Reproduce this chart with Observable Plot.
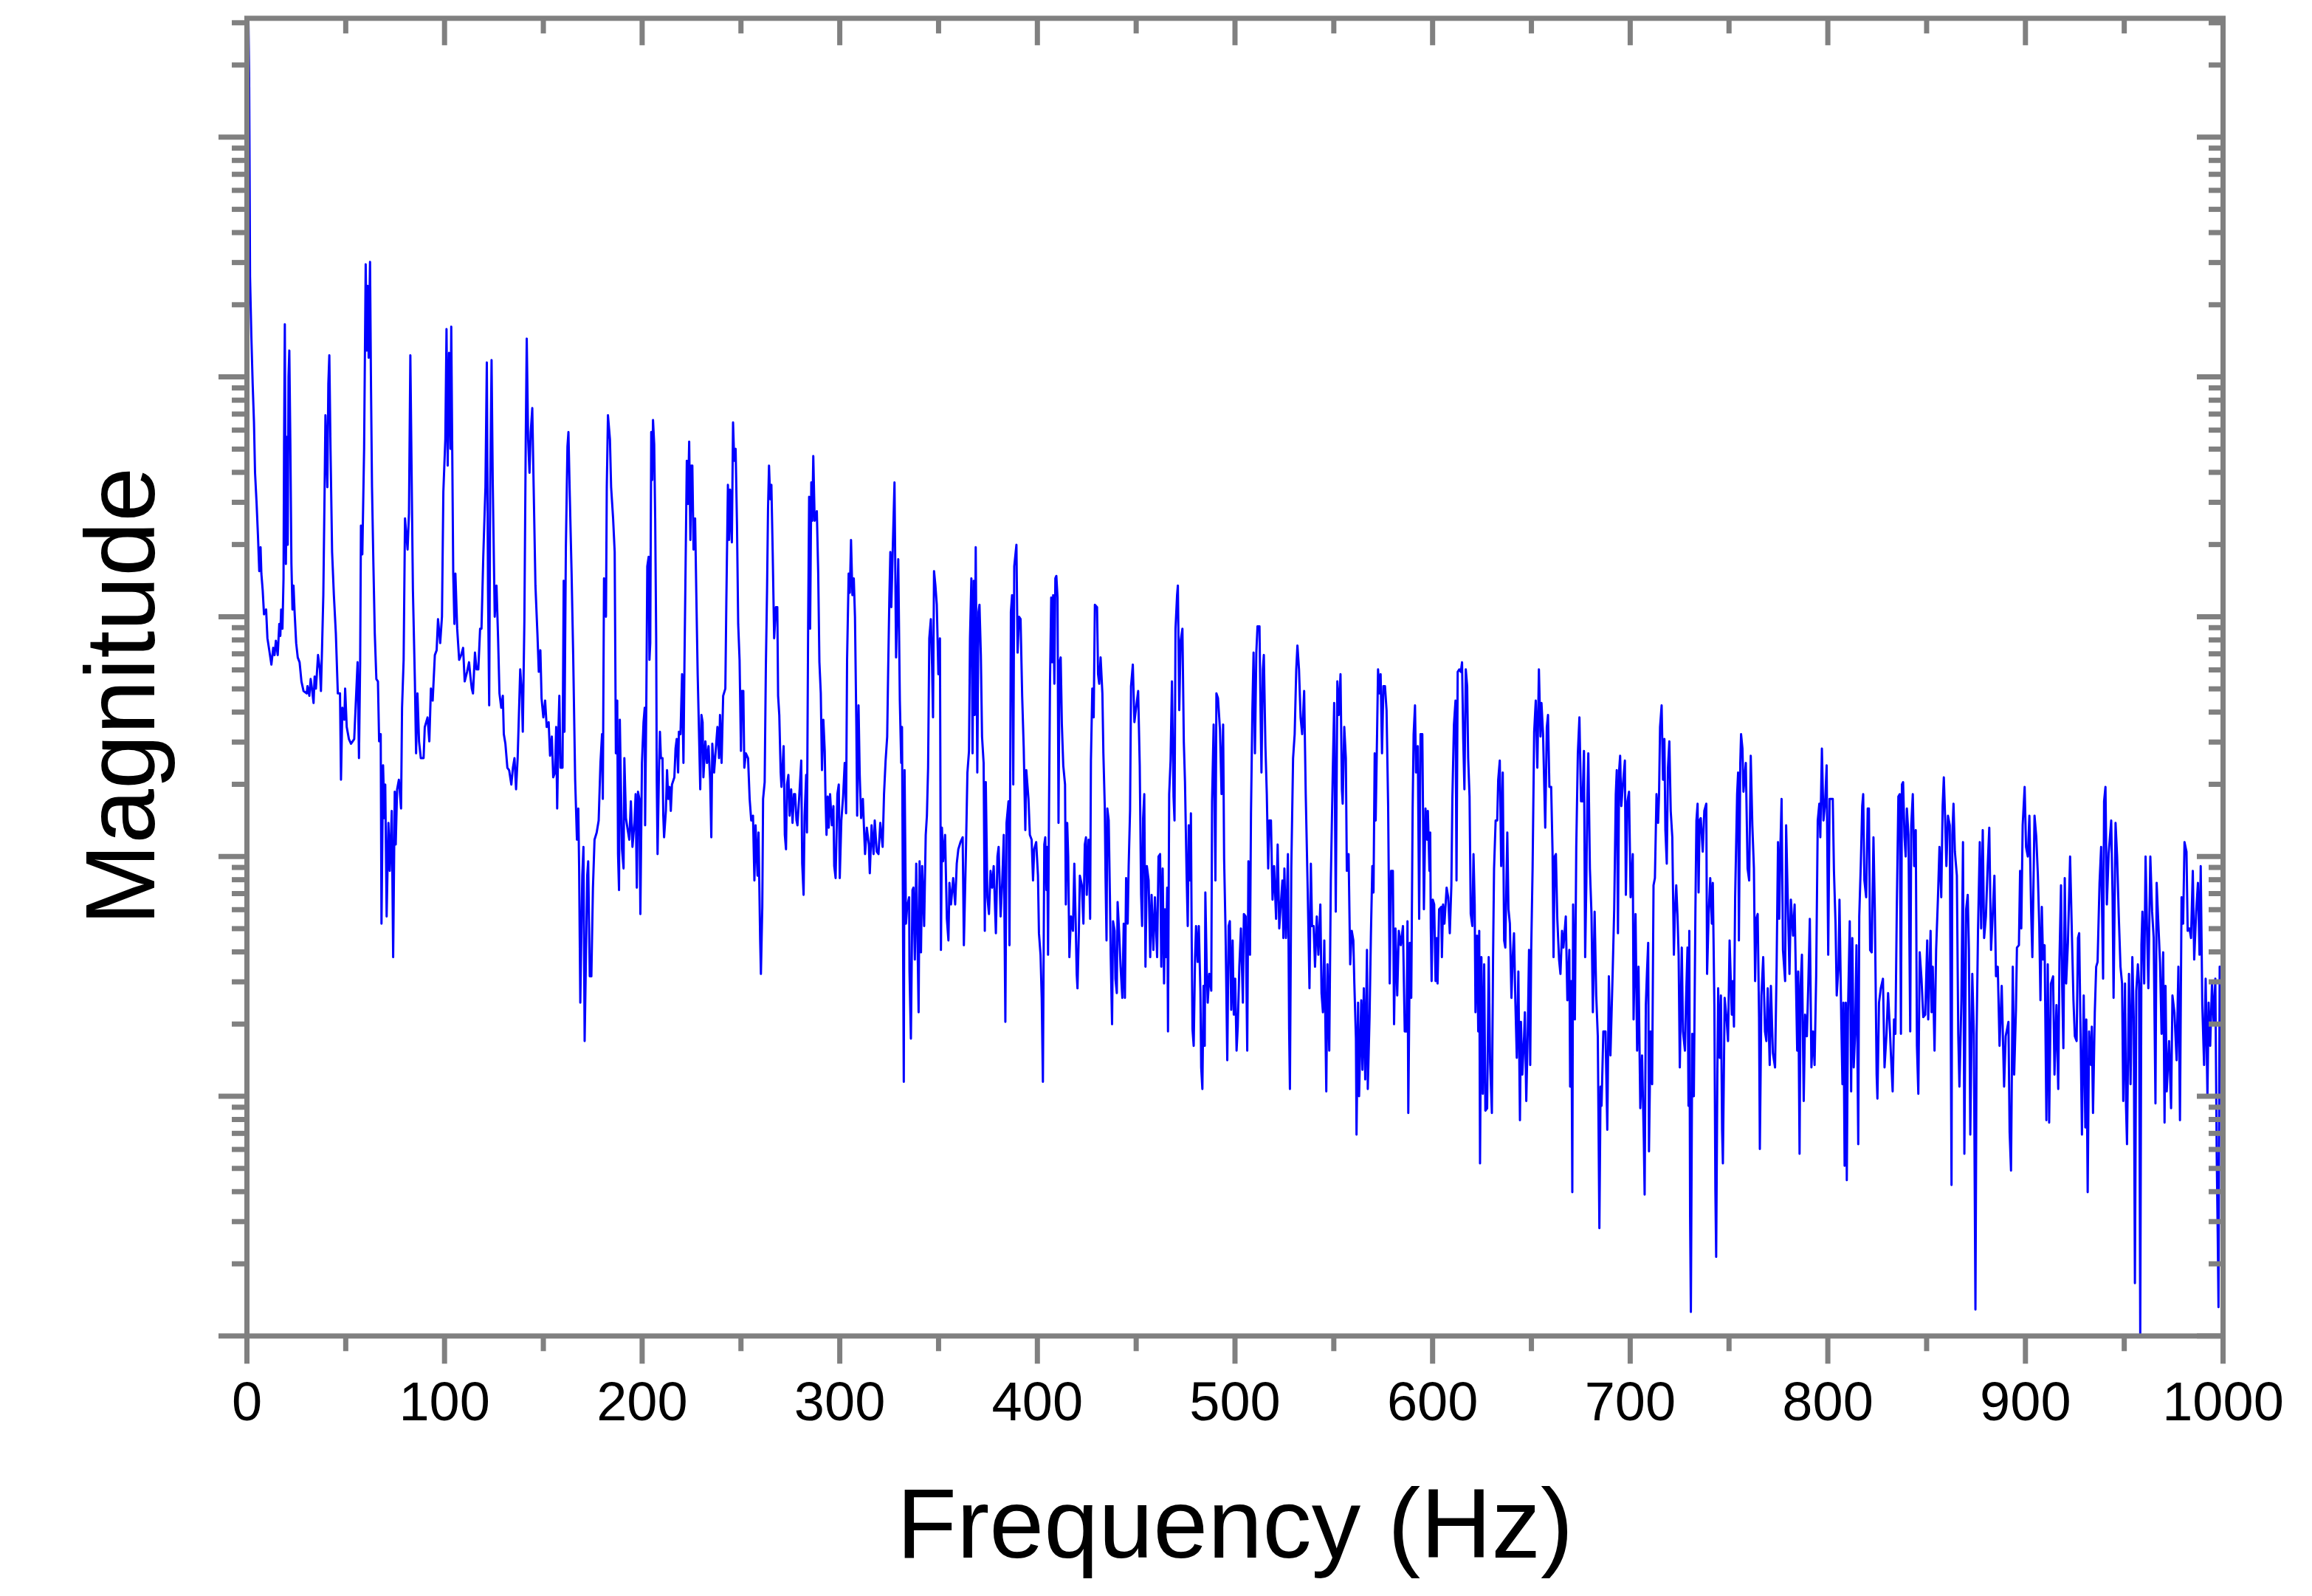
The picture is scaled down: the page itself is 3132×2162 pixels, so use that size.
<!DOCTYPE html>
<html><head><meta charset="utf-8">
<script src="https://cdn.jsdelivr.net/npm/d3@7"></script>
<script src="https://cdn.jsdelivr.net/npm/@observablehq/plot@0.6"></script>
<style>html,body{margin:0;padding:0;background:#fff}svg{display:block}</style>
</head><body><div id="chart"></div>
<script>
// Each pair: [frequency in Hz, log10 of magnitude].
const spectrum0to196 = [[0,4.86],[0.25,5.07],[0.5,5.3],[0.75,5.49],[1.1,5.27],[1.35,4.84],[1.57,4.42],[2.24,4.17],[2.91,3.97],[3.57,3.81],[4.11,3.6],[4.91,3.47],[5.58,3.34],[6.24,3.19],[6.91,3.29],[7.31,3.18],[7.98,3.11],[8.64,3.01],[9.71,3.03],[10.38,2.91],[11.31,2.86],[12.38,2.8],[13.31,2.87],[13.98,2.84],[14.65,2.9],[15.58,2.84],[16.38,2.97],[16.91,2.92],[17.32,3.03],[17.98,2.95],[18.52,3.16],[18.78,3.7],[19.18,4.22],[19.72,3.22],[20.25,3.75],[20.65,3.3],[21.05,4],[21.45,4.11],[21.98,3.72],[22.52,3.22],[23.05,3.03],[23.58,3.13],[24.12,3.02],[24.92,2.89],[25.72,2.83],[26.65,2.81],[27.59,2.73],[28.65,2.69],[30.25,2.68],[30.65,2.71],[31.59,2.67],[32.26,2.74],[32.92,2.7],[33.72,2.64],[34.26,2.75],[34.92,2.7],[35.99,2.84],[36.92,2.78],[37.46,2.69],[37.99,2.86],[38.66,3.09],[39.33,3.54],[39.73,3.84],[40.7,3.54],[41.2,3.97],[41.7,4.09],[42.3,3.7],[43.1,3.27],[44,3.09],[45,2.93],[46,2.68],[47.1,2.68],[47.6,2.32],[48.3,2.62],[49.3,2.57],[49.7,2.7],[50.5,2.54],[51.6,2.49],[52.7,2.47],[54.3,2.49],[55.3,2.68],[56,2.81],[56.7,2.41],[57.3,2.81],[57.7,3.38],[58.4,3.26],[59.3,3.7],[60.1,4.47],[60.7,4.11],[61.1,4.38],[61.6,4.08],[62.3,4.48],[62.8,3.95],[63.3,3.54],[64,3.22],[64.7,2.93],[65.5,2.74],[66.3,2.73],[66.9,2.48],[67.7,2.51],[68.1,1.72],[68.9,2.38],[69.6,2.16],[70,2.3],[70.7,1.75],[71.6,2.14],[72.3,1.94],[73.3,2.19],[74,1.58],[74.8,2.27],[75.3,2.05],[76,2.28],[76.9,2.32],[78,2.2],[78.5,2.62],[79.3,2.82],[80,3.41],[81.3,3.28],[82,3.43],[82.7,4.09],[83.3,3.63],[84,3.11],[85,2.73],[85.6,2.43],[86.3,2.68],[87.1,2.48],[88,2.41],[89.4,2.41],[90,2.54],[91.4,2.58],[92.3,2.48],[93.1,2.7],[94,2.65],[95.1,2.84],[96,2.86],[96.7,2.99],[97.8,2.89],[98.7,3],[99.4,3.52],[100.4,3.74],[101,4.2],[101.6,3.63],[102.3,4.1],[103,3.7],[103.4,4.21],[104.4,3.18],[105,2.97],[105.5,3.18],[106.4,2.95],[107.4,2.82],[108.4,2.84],[109.4,2.87],[110.2,2.73],[111.4,2.77],[112.4,2.81],[113.1,2.75],[113.8,2.7],[114.4,2.68],[115.4,2.85],[116.2,2.78],[117.1,2.78],[118,2.95],[118.7,2.95],[119.6,3.25],[120.7,3.54],[121.4,4.06],[122,3.11],[122.6,2.63],[123.1,3.52],[123.8,4.07],[124.4,3.56],[125.4,3],[126.3,3.13],[127.1,2.91],[127.8,2.68],[128.7,2.62],[129.5,2.67],[130,2.51],[130.8,2.47],[131.8,2.37],[132.7,2.36],[133.8,2.3],[134.6,2.37],[135.4,2.41],[136.2,2.28],[137,2.41],[137.6,2.58],[138.3,2.78],[139.1,2.68],[139.6,2.52],[140.4,2.98],[141.1,3.74],[141.6,4.16],[142.3,3.74],[143,3.6],[143.6,3.77],[144.4,3.87],[145.1,3.54],[146,3.13],[147,2.93],[147.7,2.77],[148.5,2.86],[149.1,2.66],[150,2.58],[150.9,2.65],[151.7,2.54],[152.7,2.56],[153.4,2.42],[154.3,2.5],[155,2.33],[155.9,2.35],[156.5,2.54],[157,2.2],[157.7,2.55],[158.1,2.67],[158.7,2.37],[159.7,2.37],[160.3,3.15],[160.7,2.52],[161.4,3.29],[162.2,3.71],[162.7,3.77],[163.4,3.5],[164.3,3.18],[165.1,2.84],[166.1,2.32],[167,2.07],[167.7,2.2],[168.1,1.96],[168.7,1.39],[169.7,1.92],[170.3,2.04],[170.9,1.23],[171.7,1.65],[172.2,1.92],[172.7,1.98],[173.5,1.5],[174.3,1.5],[175.1,1.87],[175.9,2.07],[177,2.1],[178,2.15],[178.9,2.39],[179.7,2.51],[180.1,2.24],[180.7,3.16],[181.7,3],[182.1,3.54],[182.7,3.84],[183.7,3.74],[184.3,3.54],[185.3,3.41],[186.1,3.27],[186.7,2.43],[187.4,2.65],[187.8,2.01],[188.3,1.86],[188.7,2.57],[189.8,2.03],[190.6,1.95],[191,2.41],[191.8,2.16],[192.7,2.11],[193.5,2.07],[194.3,2.23],[195.1,2.04],[196.1,2.14]];
const spectrum196to398 = [[196.7,2.26],[197.3,1.87],[197.9,2.27],[198.6,2.24],[199.1,1.76],[199.9,2.39],[200.7,2.56],[201.3,2.62],[201.5,2.13],[202.1,2.63],[202.6,3.21],[203.3,3.25],[203.7,2.82],[204.1,2.89],[204.6,3.77],[205.1,3.57],[205.5,3.82],[206.1,3.72],[206.6,3.41],[207.1,2.91],[207.4,2.31],[207.8,2.01],[208.5,2.35],[209,2.52],[209.5,2.41],[210.3,2.41],[210.7,2.17],[211.1,2.08],[212,2.19],[212.6,2.36],[213.2,2.24],[213.9,2.29],[214.5,2.19],[215.1,2.3],[216.3,2.33],[216.9,2.45],[217.5,2.49],[218.2,2.35],[218.6,2.52],[219.4,2.51],[220.2,2.76],[220.9,2.39],[221.4,2.8],[221.9,3.15],[222.6,3.65],[223.2,3.47],[223.8,3.73],[224.4,3.32],[224.9,3.63],[225.4,3.63],[226,3.28],[226.8,3.41],[227.4,3.1],[228.1,2.76],[228.6,2.58],[229.4,2.28],[230,2.59],[230.6,2.56],[231,2.33],[232,2.48],[232.8,2.39],[233.6,2.46],[234.4,2.32],[235,2.08],[235.5,2.47],[236.4,2.35],[237.3,2.45],[238.1,2.54],[238.9,2.41],[239.4,2.59],[240.2,2.39],[241,2.67],[242.1,2.7],[242.6,3.06],[243.4,3.55],[244,3.32],[244.5,3.53],[245.4,3.31],[246,3.81],[246.6,3.65],[247.3,3.7],[248,3.38],[248.6,2.97],[249.3,2.82],[250,2.44],[250.5,2.69],[251.2,2.69],[251.7,2.37],[252.5,2.43],[253.6,2.41],[254.4,2.24],[255.2,2.15],[256.1,2.17],[256.8,1.9],[257.4,2.13],[258.4,1.92],[258.9,2.1],[259.7,1.66],[260.1,1.51],[260.8,1.79],[261.2,2.24],[262,2.31],[262.6,2.79],[263.2,3.11],[263.7,3.45],[264.2,3.63],[264.8,3.49],[265.4,3.55],[266.1,3.25],[266.8,2.91],[267.7,3.04],[268.4,3.04],[268.8,2.67],[269.4,2.59],[270.1,2.35],[270.5,2.29],[271.6,2.46],[272.2,2.09],[272.8,2.03],[273.3,2.3],[274,2.34],[274.6,2.17],[275.4,2.28],[276.1,2.14],[276.8,2.26],[277.4,2.26],[278.1,2.15],[278.6,2.13],[279.7,2.28],[280.5,2.4],[281,1.97],[281.7,1.84],[282.2,2.17],[283,2.34],[283.4,2.1],[284,2.97],[284.5,3.5],[285,2.95],[285.6,3.56],[286.1,3.4],[286.6,3.67],[287.3,3.4],[288.4,3.44],[289.1,3.18],[289.7,2.81],[290.4,2.68],[291,2.36],[291.7,2.57],[292.4,2.44],[292.8,2.24],[293.3,2.09],[293.9,2.25],[294.4,2.12],[295.1,2.26],[296,2.13],[296.8,2.21],[297.2,1.96],[297.9,1.91],[298.8,2.26],[299.5,2.3],[300,1.91],[300.8,2.15],[301.7,2.25],[302.5,2.39],[303.2,2.18],[303.7,2.82],[304.5,3.18],[305.1,3.1],[305.7,3.32],[306.4,3.09],[307.1,3.16],[307.7,3],[308.4,2.54],[308.8,2.17],[309.5,2.63],[310.1,2.34],[310.8,2.16],[311.7,2.24],[312.4,2.09],[312.8,2.01],[313.7,2.12],[314.7,2.05],[315.2,1.93],[316.1,2.13],[317.1,2.01],[317.7,2.15],[318.7,2.02],[319.6,2.01],[320.5,2.14],[321.7,2.04],[322.4,2.26],[323.2,2.4],[324,2.5],[324.5,2.78],[325.1,3.08],[325.6,3.27],[326.1,3.04],[326.9,3.31],[327.7,3.56],[328.5,2.83],[329.6,3.24],[330.4,2.65],[331.1,2.39],[331.5,2.54],[332.4,1.06],[332.8,2.36],[333.5,1.72],[334.1,1.79],[335.1,1.83],[335.3,1.52],[336,1.24],[336.8,1.86],[337.3,1.87],[338,1.57],[338.7,1.97],[339.3,1.68],[339.9,1.35],[340.4,1.98],[341.1,1.6],[341.7,1.96],[342.7,1.71],[343.5,2.09],[344.1,2.17],[344.7,2.37],[345.3,2.91],[346.1,2.99],[346.7,2.8],[347.2,2.58],[347.7,3.19],[348.4,3.13],[349.1,3.05],[349.9,2.76],[350.7,2.91],[351.2,1.61],[351.7,2.12],[352.3,1.98],[353.3,2.09],[354.2,1.74],[355,1.65],[355.5,1.89],[356.3,1.8],[357.4,1.91],[358.4,1.8],[359.2,1.97],[360,2.03],[361.1,2.06],[362.2,2.08],[362.8,1.63],[363.8,2],[364.6,2.35],[365.4,2.44],[365.9,2.91],[366.6,3.16],[367.2,2.43],[367.8,3.15],[368.3,2.59],[368.8,3.29],[369.6,2.35],[370.2,3.02],[370.7,3.05],[371.4,2.84],[372,2.5],[372.8,2.39],[373.4,1.69],[373.9,2.31],[374.7,1.83],[375.5,1.76],[376.3,1.94],[377.1,1.87],[377.9,1.96],[379,1.68],[379.8,2],[380.4,2.04],[381.4,1.75],[382.2,1.89],[383,2.09],[383.8,1.31],[384.4,2.14],[385.4,2.23],[385.9,1.63],[386.6,3.02],[387.2,3.09],[387.8,2.3],[388.3,3.21],[389.4,3.3],[390,2.85],[390.7,3],[391.5,2.99],[392.3,2.67],[393.1,2.45],[393.9,2.11],[394.4,2.36],[395.5,2.24],[396.2,2.09],[397.1,2.07],[397.8,1.9]];
const spectrum398to600 = [[398.4,2.03],[399.4,2.06],[400.3,1.92],[400.8,1.68],[401.6,1.59],[402.2,1.41],[402.8,1.06],[403.5,2.05],[404,2.08],[404.6,1.86],[405,2.04],[405.4,1.59],[405.9,2.21],[406.4,2.73],[407,3.08],[407.5,2.81],[408,3.09],[408.6,2.72],[409.1,3.16],[409.6,3.17],[410.2,3.08],[410.7,2.14],[411.2,2.81],[411.8,2.83],[412.4,2.55],[413.1,2.38],[414,2.3],[414.4,1.8],[415.1,2.14],[415.6,2],[416.2,1.58],[417,1.75],[418,1.69],[418.7,1.97],[419.4,1.72],[419.9,1.51],[420.3,1.45],[421,1.69],[421.5,1.92],[422.5,1.88],[423.3,1.72],[424,2.05],[424.6,2.08],[425,1.84],[425.9,2.07],[426.7,1.74],[427.1,2.4],[427.8,2.7],[428.5,2.58],[429.1,3.05],[430.2,3.04],[430.7,2.76],[431.3,2.72],[432,2.83],[432.9,2.68],[433.4,2.43],[434.1,2.21],[434.5,1.91],[435,1.65],[435.4,2.2],[436.1,2.15],[436.7,1.84],[437.1,1.59],[437.8,1.3],[438.3,1.73],[439.1,1.69],[439.5,1.49],[440.2,1.43],[440.6,1.81],[441.4,1.68],[442.1,1.54],[443,1.41],[443.7,1.72],[444.3,1.41],[444.9,1.91],[445.7,1.72],[446.2,1.96],[446.9,2.19],[447.4,2.71],[448.3,2.8],[449.1,2.56],[450.1,2.63],[451,2.69],[451.8,2.38],[452.5,1.84],[453,1.71],[453.5,2.16],[454.1,2.26],[454.7,1.54],[455.4,1.96],[456.3,1.9],[457.1,1.58],[457.8,1.84],[458.7,1.61],[459.5,1.83],[460.6,1.58],[461.3,2],[462.1,2.01],[462.7,1.54],[463.4,1.95],[464.1,1.47],[464.6,1.78],[465.1,1.58],[465.7,1.87],[466.1,1.27],[466.7,2.26],[467.4,2.4],[468.1,2.73],[468.9,2.25],[469.4,2.15],[469.9,2.95],[470.7,3.09],[471.1,3.13],[471.8,2.61],[472.5,2.9],[473.4,2.95],[474.1,2.48],[474.7,2.31],[475.5,1.93],[476.1,1.71],[476.6,2.13],[477.3,1.9],[477.7,2.18],[478.1,1.65],[478.5,1.28],[479.1,1.21],[479.8,1.58],[480.3,1.71],[481.1,1.56],[481.7,1.71],[482.5,1.44],[482.9,1.12],[483.5,1.03],[484.1,1.46],[484.7,1.21],[485,1.85],[485.7,1.53],[486.2,1.39],[487,1.51],[488,1.44],[488.4,2.23],[489.2,2.55],[490.1,1.9],[490.6,2.68],[491.4,2.66],[492.4,2.53],[493.2,2.26],[494,2.55],[494.5,1.99],[495.2,1.7],[496.1,1.15],[496.8,1.71],[497.4,1.73],[498.1,1.36],[498.8,1.65],[499.4,1.34],[500.1,1.49],[500.8,1.19],[501.4,1.29],[502.2,1.54],[503,1.7],[504,1.39],[504.5,1.76],[505.4,1.75],[506.2,1.19],[506.8,1.98],[507.6,1.59],[508.1,2.18],[508.8,2.61],[509.4,2.85],[510.1,2.43],[510.8,2.85],[511.4,2.96],[512.4,2.96],[512.9,2.63],[513.4,2.35],[514.1,2.78],[514.6,2.84],[515.4,2.46],[516.1,2.26],[516.8,1.95],[517.4,2.15],[518.2,2.15],[519,1.82],[519.8,1.96],[520.8,1.74],[521.6,2.05],[522.4,1.7],[523.2,1.8],[524,1.9],[524.5,1.66],[525,1.95],[525.8,1.66],[526.8,2.01],[527.4,1.28],[527.8,1.03],[528.5,1.95],[529.4,2.41],[530.2,2.51],[531,2.78],[531.6,2.88],[532.4,2.78],[533.2,2.58],[534,2.51],[535,2.69],[535.8,2.26],[536.8,1.86],[537.7,1.45],[538.4,1.97],[539,1.71],[539.8,1.71],[540.5,1.54],[541.4,1.75],[542.2,1.59],[543.2,1.8],[543.8,1.43],[544.5,1.35],[545.2,1.65],[546.2,1.02],[546.8,1.55],[547.7,1.19],[548.5,1.9],[549.5,2.36],[550.2,2.64],[551,1.77],[551.8,2.73],[552.5,2.59],[553.4,2.76],[554.1,2.28],[554.5,2.22],[555.3,2.54],[556.1,2.41],[556.6,1.94],[557.5,2.01],[558.3,1.55],[559.1,1.69],[559.9,1.65],[560.4,1.47],[561.2,1.24],[561.5,0.84],[562.3,1.39],[562.8,1],[563.9,1.4],[564.5,1.11],[565.2,1.45],[565.9,1.07],[566.8,1.61],[567.2,1.03],[568.1,1.33],[568.8,1.68],[569.5,1.96],[570.1,1.85],[570.7,2.43],[571.2,2.15],[571.9,2.51],[572.4,2.78],[573.1,2.68],[573.7,2.76],[574.4,2.43],[575.1,2.71],[575.9,2.71],[576.7,2.61],[577.5,2.21],[578.3,1.47],[579,1.94],[579.9,1.94],[580.5,1.3],[581.2,1.7],[582.1,1.42],[582.9,1.69],[583.9,1.63],[585,1.71],[585.9,1.27],[586.8,1.27],[587.3,1.73],[587.7,0.93],[588.5,1.64],[589.2,1.41],[589.9,2.2],[590.4,2.51],[591.1,2.63],[591.6,2.35],[592.5,2.46],[593.2,1.74],[593.9,2.51],[594.8,2.51],[595.6,1.78],[596.4,2.2],[597.2,2.07],[597.6,2.19],[598.4,1.94],[598.8,2.1],[599.1,1.7],[599.5,1.48]];
const spectrum600to800 = [[600.1,1.82],[600.8,1.8],[601.5,1.48],[602.1,1.66],[602.5,1.47],[603.3,1.78],[604.4,1.79],[604.7,1.58],[605.3,1.8],[606,1.72],[607.1,1.87],[607.9,1.83],[608.7,1.68],[609.5,1.88],[610,2.24],[610.8,2.55],[611.6,2.65],[612.1,1.9],[612.7,2.77],[613.5,2.78],[614.3,2.77],[614.9,2.81],[615.5,2.49],[616.1,2.28],[616.8,2.78],[617.5,2.71],[618,2.41],[618.7,2.25],[619.3,1.76],[620.1,1.71],[620.7,2.01],[621.3,1.8],[621.7,1.35],[622.5,1.67],[623.1,1.27],[623.6,1.69],[624,0.72],[624.7,1.58],[625.4,1.01],[626.1,1.55],[626.7,0.94],[627.6,0.95],[628.4,1.58],[629.1,1.14],[630,0.93],[630.6,1.58],[631.1,1.95],[631.9,2.15],[632.7,2.15],[633.2,2.32],[634,2.4],[634.7,1.96],[635.5,2.35],[636.2,1.65],[636.8,1.62],[637.8,2.1],[638.4,1.78],[639.1,1.72],[639.9,1.41],[640.6,1.59],[641.2,1.68],[641.9,1.39],[642.6,1.16],[643.4,1.52],[644.2,0.9],[644.7,1.31],[645.4,1.09],[646.3,1.25],[646.7,1.35],[647.4,0.98],[648.2,1.29],[648.8,1.61],[649.4,1.13],[649.9,1.61],[650.6,1.95],[651.4,2.52],[652.2,2.65],[653,2.37],[653.8,2.78],[654.6,2.5],[655.1,2.64],[655.9,2.51],[657,2.12],[657.8,2.54],[658.4,2.59],[659.1,2.29],[660,2.29],[660.7,2.02],[661.2,1.58],[661.8,2],[662.4,2.01],[663.1,1.74],[664,1.57],[664.7,1.51],[665.5,1.69],[666.2,1.62],[667.4,1.75],[668.2,1.4],[669.2,1.61],[669.6,1.04],[670.2,1.48],[670.7,0.6],[671.1,1.8],[672,1.32],[672.7,2.04],[673.5,2.43],[674.3,2.58],[675.1,2.23],[675.9,2.23],[676.6,2.44],[677.2,1.58],[677.8,1.89],[678.3,2.23],[678.8,2.43],[679.6,1.95],[680.4,1.76],[681.1,1.35],[682,1.77],[682.8,1.42],[683.6,1.25],[684.4,0.45],[685,1.04],[685.5,0.96],[686.4,1.27],[687.5,1.27],[688.4,0.86],[689.2,1.5],[690,1.17],[691.1,1.51],[691.9,1.78],[692.7,2.26],[693.2,2.36],[693.8,1.68],[694.4,2.36],[694.9,2.42],[695.5,2.21],[696.5,2.32],[697.3,2.4],[697.8,1.84],[698.6,2.23],[699.4,2.27],[700.2,1.83],[701.3,2.01],[701.7,1.32],[702.7,1.76],[703.5,1.19],[704.2,1.54],[705.1,0.95],[706,1.17],[706.9,0.81],[707.3,0.59],[707.9,1.38],[708.5,1.52],[709.1,1.64],[709.5,0.77],[710.3,1.27],[711.1,1.05],[711.8,1.88],[712.5,1.91],[713.3,2.26],[714.1,2.14],[714.6,2.26],[715.1,2.54],[715.9,2.63],[716.6,2.32],[717.3,2.49],[717.8,2.11],[718.5,1.97],[719.1,2.37],[719.8,2.48],[720.5,2.19],[721.3,2.08],[722.1,1.59],[722.6,1.76],[723.3,1.88],[723.9,1.76],[724.5,1.59],[725.1,1.12],[726.1,1.62],[726.7,1.27],[727.7,1.19],[728.2,1.39],[729,1.62],[729.5,0.96],[729.9,1.69],[730.3,0.5],[730.7,0.1],[731.4,1.26],[732.2,1],[733,1.78],[733.5,2.15],[734.1,2.22],[734.6,1.85],[735.1,2.15],[735.7,2.16],[736.7,2.02],[737.5,2.19],[738.5,2.22],[738.9,1.51],[739.7,1.76],[740.5,1.91],[741.3,1.72],[741.8,1.89],[742.6,1.37],[743.1,0.61],[743.5,0.33],[744.1,1.09],[744.5,1.45],[745.3,1.16],[745.9,1.42],[746.5,0.86],[746.9,0.72],[747.8,1.41],[748.7,1.33],[749.5,1.23],[750.3,1.65],[751.4,1.34],[751.9,1.48],[752.5,1.29],[753.1,1.83],[754.1,2.26],[754.6,2.35],[755,1.65],[755.7,2.39],[756.1,2.51],[756.8,2.45],[757.3,2.27],[758.5,2.39],[759.4,1.95],[760.2,1.9],[761,2.42],[761.8,2.13],[762.6,1.95],[763.2,1.48],[763.8,1.74],[764.5,1.76],[765.2,1.33],[765.6,0.78],[766.4,1.42],[767.3,1.58],[768.2,1.27],[768.9,1.23],[769.6,1.45],[770.6,1.13],[771.2,1.46],[772.2,1.18],[773.3,1.12],[774.1,1.55],[774.8,2.06],[775.4,1.74],[776,2.04],[776.6,2.24],[777.3,1.61],[778.4,1.48],[778.9,2.13],[779.7,1.83],[780.6,1.51],[781.3,1.82],[782.4,1.67],[783.2,1.8],[784,1.42],[784.5,1.19],[785,1.52],[785.7,0.76],[786.2,1.46],[786.9,1.59],[787.8,0.98],[788.5,1.34],[789.4,1.25],[790.1,1.46],[790.9,1.74],[791.7,1.12],[792.5,1.27],[793.3,1.13],[794.1,1.5],[794.9,2.15],[795.7,2.22],[796.2,2.08],[797,2.45],[797.8,2.15],[798.6,2.22],[799.4,2.38],[800.2,1.59],[800.9,2.24]];
const spectrum800to1000 = [[802.5,2.24],[803.1,1.94],[803.9,1.72],[804.5,1.42],[805.4,1.54],[805.9,1.82],[806.8,1.32],[807.4,1.05],[807.9,1.39],[808.5,0.71],[809.1,1.39],[809.6,0.65],[810.2,1.35],[811.1,1.73],[811.8,1.02],[812.4,1.66],[813.1,1.12],[813.8,1.26],[814.5,1.63],[815.4,0.8],[815.9,1.75],[816.7,1.97],[817.4,2.21],[817.9,2.26],[818.5,1.9],[819.4,1.83],[820.2,2.2],[820.8,2.2],[821.4,1.61],[822.2,1.6],[823.1,2.08],[823.8,1.77],[824.7,1.09],[825.1,0.99],[825.9,1.39],[826.8,1.45],[827.9,1.49],[828.7,1.12],[829.7,1.26],[830.5,1.43],[831.4,1.28],[831.9,1.18],[832.8,1.02],[833.5,1.32],[834.2,1.26],[834.9,1.78],[835.7,2.25],[836.4,2.26],[837,1.26],[837.5,2.3],[838.1,2.31],[838.8,2.08],[839.4,2],[840,2.2],[840.8,2.09],[841.7,1.27],[842.2,2.13],[843,2.26],[843.7,1.96],[844.5,2.11],[845.1,1.21],[845.8,1.01],[846.5,1.6],[847.4,1.49],[848.3,1.33],[849.3,1.34],[850.3,1.65],[850.8,1.32],[852,1.69],[852.5,1.35],[853.1,1.54],[854,1.19],[854.8,1.61],[855.7,1.82],[856.5,2.04],[857.4,1.83],[858.1,2.21],[858.7,2.33],[859.4,2.15],[860,1.96],[860.8,2.17],[861.7,2.13],[862.6,0.63],[863,2.09],[863.6,2.22],[864.3,2.02],[865.3,1.92],[866,1.26],[866.6,1.04],[867.6,1.4],[868.4,2.06],[869.1,0.76],[870,1.78],[870.8,1.84],[871.4,1.61],[872.1,0.84],[873.1,1.51],[873.9,1.26],[874.7,0.11],[875.3,1.26],[876,1.69],[876.9,2.06],[877.6,1.7],[878.4,2.11],[879.1,1.66],[880,1.75],[880.9,1.96],[881.7,2.12],[882.6,1.61],[883.4,1.75],[884.3,1.92],[885.1,1.5],[886,1.54],[886.9,1.21],[888,1.46],[889.2,1.04],[890,1.25],[891.4,1.31],[892,0.85],[892.7,0.69],[893.6,1.54],[894.3,1.09],[895.2,1.36],[895.7,1.62],[896.7,1.63],[897.3,1.94],[897.9,1.7],[898.6,2.13],[899.6,2.29],[900.3,2.04],[901.2,2],[902,2.17],[902.9,1.77],[903.5,1.58],[904.6,2.17],[905.5,2.08],[906.3,1.92],[907,1.71],[907.6,1.4],[908.3,1.79],[908.9,1.57],[909.7,1.63],[910.6,0.9],[911.3,1.55],[912,0.89],[912.9,1.47],[914,1.5],[914.7,1.09],[915.7,1.38],[916.6,1.03],[917.2,1.56],[918,1.88],[918.6,1.45],[919.2,1.2],[919.9,1.91],[920.6,1.47],[921.5,1.64],[922.6,2],[923.5,1.68],[924.3,1.4],[925,1.25],[925.9,1.23],[926.6,1.66],[927.2,1.68],[927.8,1.32],[928.6,0.84],[929.5,1.42],[930.3,0.87],[930.8,1.32],[931.5,0.6],[932.2,1.27],[933.2,1.13],[933.6,1.29],[934.2,0.93],[935.1,1.35],[935.8,1.54],[936.5,1.56],[937.5,1.89],[938.3,2.04],[939.3,1.49],[939.8,2.23],[940.5,2.29],[941.2,1.8],[942.1,2.01],[943.4,2.15],[944.1,1.83],[944.6,1.41],[945.6,2.14],[946.4,2],[947.2,1.76],[948.1,1.54],[948.9,1.47],[949.5,0.98],[950.4,1.47],[950.9,0.96],[951.4,0.8],[952.4,1.51],[953.2,1.05],[954.1,1.58],[954.8,1.33],[955.4,0.22],[956.1,1.44],[956.9,1.55],[957.5,1.47],[958.1,0],[958.7,1.63],[959.2,1.77],[960.1,1.47],[960.8,2],[961.5,1.71],[962.2,1.45],[963.2,2],[964.1,1.77],[964.9,1.66],[965.8,0.97],[966.4,1.89],[967.2,1.73],[968.1,1.56],[968.9,1.26],[969.7,1.6],[970.4,0.89],[970.9,1.46],[971.5,1.02],[972.7,1.23],[973.7,0.95],[974.4,1.42],[975.4,1.35],[976.5,1.15],[977.4,1.54],[978.2,0.9],[979,1.83],[979.8,1.72],[980.5,2.06],[981.5,2.02],[982.1,1.69],[983,1.7],[983.8,1.66],[984.7,1.94],[985.4,1.57],[986.4,1.77],[987.3,1.89],[988.1,1.59],[988.7,1.96],[989.5,1.38],[990.4,1.13],[991.2,1.49],[992.1,1],[992.7,1.39],[993.5,1.21],[994.4,1.47],[995.3,1.3],[996.1,1.49],[996.8,0.75],[997.3,0.43],[997.7,0.12],[998.3,1.54],[999,1.35],[999.6,1.56],[1000,1.89]];

const majorFrequencies = [0,100,200,300,400,500,600,700,800,900,1000];
const minorFrequencies = [50,150,250,350,450,550,650,750,850,950];
const decades = [0,1,2,3,4,5];
const minorMultipliers = [2,3,4,5,6,7,8,9];
const topLogMagnitude = 5.4957;
const xTitle = "Frequency (Hz)";
const yTitle = "Magnitude";

const points = [...spectrum0to196, ...spectrum196to398, ...spectrum398to600, ...spectrum600to800, ...spectrum800to1000]
  .map(([f, l]) => ({f, m: 10 ** l}));
const majorMagnitudes = decades.map(d => 10 ** d);
const minorMagnitudes = decades.flatMap(d => minorMultipliers.map(k => k * 10 ** d))
  .filter(v => Math.log10(v) <= topLogMagnitude);

const gray = "#808080";
const noLabel = () => "";
const tickStyle = {stroke: gray, strokeWidth: 7, label: null, tickFormat: noLabel};

const chart = Plot.plot({
  width: 3132, height: 2162,
  marginLeft: 334, marginRight: 121, marginTop: 24.3, marginBottom: 352.7,
  style: {fontFamily: "'Liberation Sans', Arial, sans-serif", background: "#fff", color: "#000"},
  x: {domain: [0, 1000], axis: null},
  y: {type: "log", domain: [1, 10 ** topLogMagnitude], axis: null},
  marks: [
    Plot.line(points, {x: "f", y: "m", stroke: "#0000ff", strokeWidth: 3, clip: "frame", curve: "linear"}),
    Plot.axisX(majorFrequencies, {anchor: "bottom", tickSize: 38, ...tickStyle}),
    Plot.axisX(minorFrequencies, {anchor: "bottom", tickSize: 21, ...tickStyle}),
    Plot.axisX(majorFrequencies, {anchor: "top", tickSize: -36, ...tickStyle}),
    Plot.axisX(minorFrequencies, {anchor: "top", tickSize: -20, ...tickStyle}),
    Plot.axisY(majorMagnitudes, {anchor: "left", tickSize: 38, ...tickStyle}),
    Plot.axisY(minorMagnitudes, {anchor: "left", tickSize: 20, ...tickStyle}),
    Plot.axisY(majorMagnitudes, {anchor: "right", tickSize: -36, ...tickStyle}),
    Plot.axisY(minorMagnitudes, {anchor: "right", tickSize: -20, ...tickStyle}),
    Plot.frame({stroke: gray, strokeWidth: 7}),
    Plot.axisX(majorFrequencies, {anchor: "bottom", tickSize: 0, tickPadding: 62, fontSize: 74, label: null, tickFormat: d => String(d), color: "#000"}),
    Plot.text([xTitle], {text: d => d, frameAnchor: "bottom", dy: 300, dx: 0, fontSize: 133, lineAnchor: "bottom", fill: "#000"}),
    Plot.text([yTitle], {text: d => d, frameAnchor: "left", textAnchor: "middle", dx: -126, dy: 26, rotate: -90, fontSize: 133, lineAnchor: "bottom", fill: "#000"})
  ]
});
document.getElementById("chart").appendChild(chart);
</script></body></html>
